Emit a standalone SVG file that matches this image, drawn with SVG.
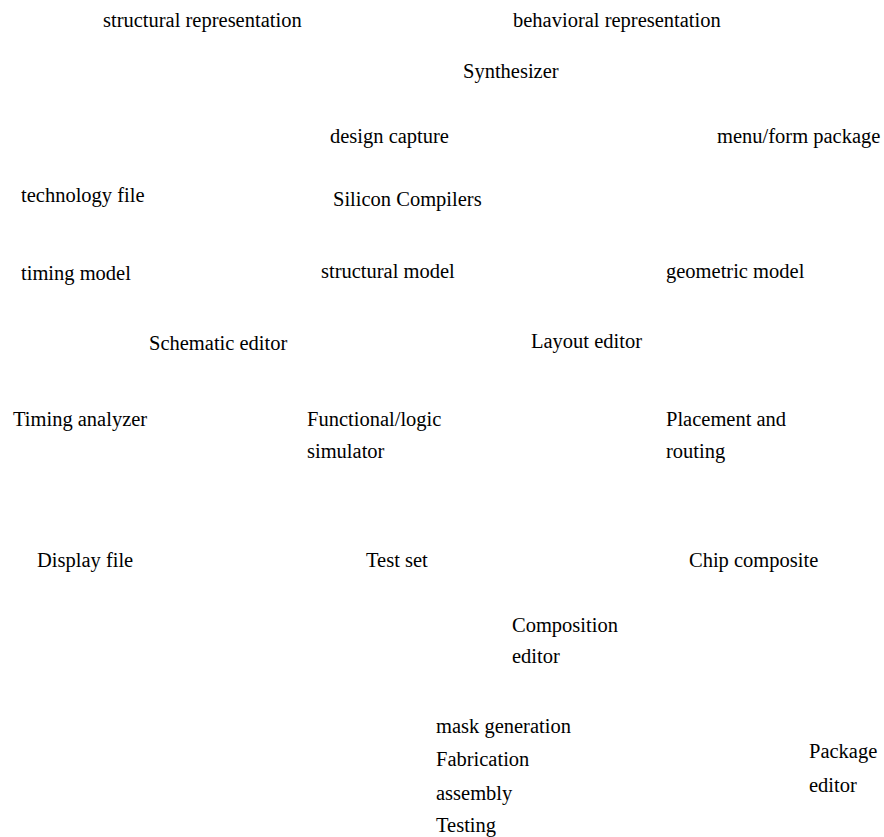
<svg xmlns="http://www.w3.org/2000/svg" width="884" height="837" viewBox="0 0 884 837">
  <style>
    text { font-family: "Liberation Serif", "Times New Roman", serif; font-size: 20.5px; fill: #000; }
  </style>
  <rect width="884" height="837" fill="#fff"/>
  <g id="structural-representation"><text x="103" y="27">structural representation</text></g>
  <g id="behavioral-representation"><text x="513" y="27">behavioral representation</text></g>
  <g id="synthesizer"><text x="463" y="78">Synthesizer</text></g>
  <g id="design-capture"><text x="330" y="143">design capture</text></g>
  <g id="menu-form-package"><text x="717" y="143">menu/form package</text></g>
  <g id="technology-file"><text x="21" y="202">technology file</text></g>
  <g id="silicon-compilers"><text x="333" y="206">Silicon Compilers</text></g>
  <g id="timing-model"><text x="21" y="280">timing model</text></g>
  <g id="structural-model"><text x="321" y="278">structural model</text></g>
  <g id="geometric-model"><text x="666" y="278">geometric model</text></g>
  <g id="schematic-editor"><text x="149" y="350">Schematic editor</text></g>
  <g id="layout-editor"><text x="531" y="348">Layout editor</text></g>
  <g id="timing-analyzer"><text x="13" y="426">Timing analyzer</text></g>
  <g id="functional-logic-simulator">
    <text x="307" y="426">Functional/logic</text>
    <text x="307" y="458">simulator</text>
  </g>
  <g id="placement-routing">
    <text x="666" y="426">Placement and</text>
    <text x="666" y="458">routing</text>
  </g>
  <g id="display-file"><text x="37" y="567">Display file</text></g>
  <g id="test-set"><text x="366" y="567">Test set</text></g>
  <g id="chip-composite"><text x="689" y="567">Chip composite</text></g>
  <g id="composition-editor">
    <text x="512" y="632">Composition</text>
    <text x="512" y="663">editor</text>
  </g>
  <g id="manufacturing-steps">
    <text x="436" y="733">mask generation</text>
    <text x="436" y="766">Fabrication</text>
    <text x="436" y="800">assembly</text>
    <text x="436" y="832">Testing</text>
  </g>
  <g id="package-editor">
    <text x="809" y="758">Package</text>
    <text x="809" y="792">editor</text>
  </g>
</svg>
